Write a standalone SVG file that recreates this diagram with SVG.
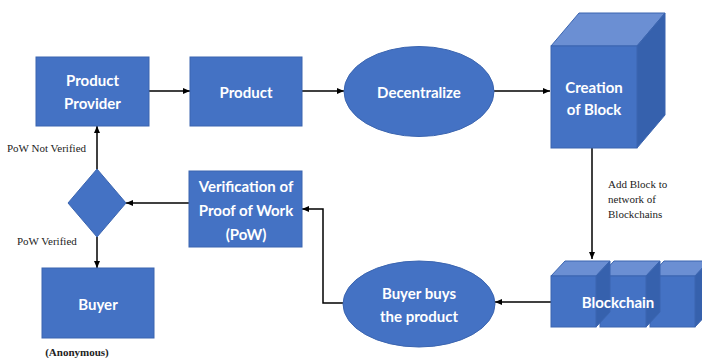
<svg xmlns="http://www.w3.org/2000/svg" width="702" height="358" viewBox="0 0 702 358">
<defs>
<style>
.box{fill:#4472C4;stroke:#3B65B0;stroke-width:1}
.top{fill:#6B8FD3;stroke:#3B65B0;stroke-width:1}
.side{fill:#3661AD;stroke:#3B65B0;stroke-width:1}
.lbl{fill:#ffffff;font-family:Lato,"Liberation Sans",sans-serif;font-weight:bold;font-size:15px;text-anchor:middle;dominant-baseline:central}
.note{fill:#222222;font-family:"Liberation Serif","DejaVu Serif",serif;font-size:11px}
.con{fill:none;stroke:#000000;stroke-width:1.5;marker-end:url(#ah)}
</style>
<marker id="ah" markerUnits="userSpaceOnUse" markerWidth="7" markerHeight="6" refX="7" refY="3" orient="auto">
<path d="M0,0 L7,3 L0,6 z" fill="#000000"/>
</marker>
</defs>
<rect width="702" height="358" fill="#ffffff"/>

<g id="connectors">
<line class="con" x1="149" y1="91" x2="190" y2="91"/>
<line class="con" x1="302" y1="91" x2="344" y2="91"/>
<line class="con" x1="494" y1="91" x2="550" y2="91"/>
<line class="con" x1="592" y1="148" x2="592" y2="259"/>
<line class="con" x1="551" y1="302" x2="495" y2="302"/>
<polyline class="con" points="343,303 323,303 323,209 302,209"/>
<line class="con" x1="189" y1="203" x2="126" y2="203"/>
<line class="con" x1="97" y1="169" x2="97" y2="126"/>
<line class="con" x1="97" y1="237" x2="97" y2="268"/>
</g>

<g id="product-provider">
<rect class="box" x="36" y="57" width="113" height="69"/>
<text class="lbl" x="92.5" y="80">Product</text>
<text class="lbl" x="92.5" y="103">Provider</text>
</g>

<g id="product">
<rect class="box" x="190" y="57" width="112" height="69"/>
<text class="lbl" x="246" y="92">Product</text>
</g>

<g id="decentralize">
<ellipse class="box" cx="419" cy="91.5" rx="75" ry="45"/>
<text class="lbl" x="419" y="92">Decentralize</text>
</g>

<g id="creation-of-block">
<polygon class="top" points="551,46 579,13 665,13 637,46"/>
<polygon class="side" points="637,46 665,13 665,115 637,148"/>
<rect class="box" x="551" y="46" width="86" height="102"/>
<text class="lbl" x="594" y="87">Creation</text>
<text class="lbl" x="594" y="109">of Block</text>
</g>

<g id="add-block-label">
<text class="note" x="608" y="188">Add Block to</text>
<text class="note" x="608" y="203">network of</text>
<text class="note" x="608" y="218">Blockchains</text>
</g>

<g id="blockchain">
<polygon class="top" points="650,276 664,261 709,261 695,276"/>
<polygon class="side" points="695,276 709,261 709,312 695,327"/>
<rect class="box" x="650" y="276" width="45" height="51"/>
<polygon class="top" points="600,276 614,261 660,261 646,276"/>
<polygon class="side" points="646,276 660,261 660,312 646,327"/>
<rect class="box" x="600" y="276" width="46" height="51"/>
<polygon class="top" points="551,276 565,261 610,261 596,276"/>
<polygon class="side" points="596,276 610,261 610,312 596,327"/>
<rect class="box" x="551" y="276" width="45" height="51"/>
<text class="lbl" x="618" y="302">Blockchain</text>
</g>

<g id="buyer-buys">
<ellipse class="box" cx="419" cy="304" rx="76" ry="43"/>
<text class="lbl" x="419" y="293">Buyer buys</text>
<text class="lbl" x="419" y="316">the product</text>
</g>

<g id="verification">
<rect class="box" x="189" y="171" width="113" height="76"/>
<text class="lbl" x="246" y="186">Verification of</text>
<text class="lbl" x="246" y="210">Proof of Work</text>
<text class="lbl" x="246" y="234">(PoW)</text>
</g>

<g id="decision">
<polygon class="box" points="97,169 126,203 97,237 68,203"/>
</g>

<g id="buyer">
<rect class="box" x="42" y="268" width="112" height="70"/>
<text class="lbl" x="98" y="304">Buyer</text>
</g>

<g id="labels">
<text class="note" x="7" y="152">PoW Not Verified</text>
<text class="note" x="17" y="245">PoW Verified</text>
<text class="note" x="77" y="356" text-anchor="middle" font-weight="bold" font-size="11.5">(Anonymous)</text>
</g>
</svg>
